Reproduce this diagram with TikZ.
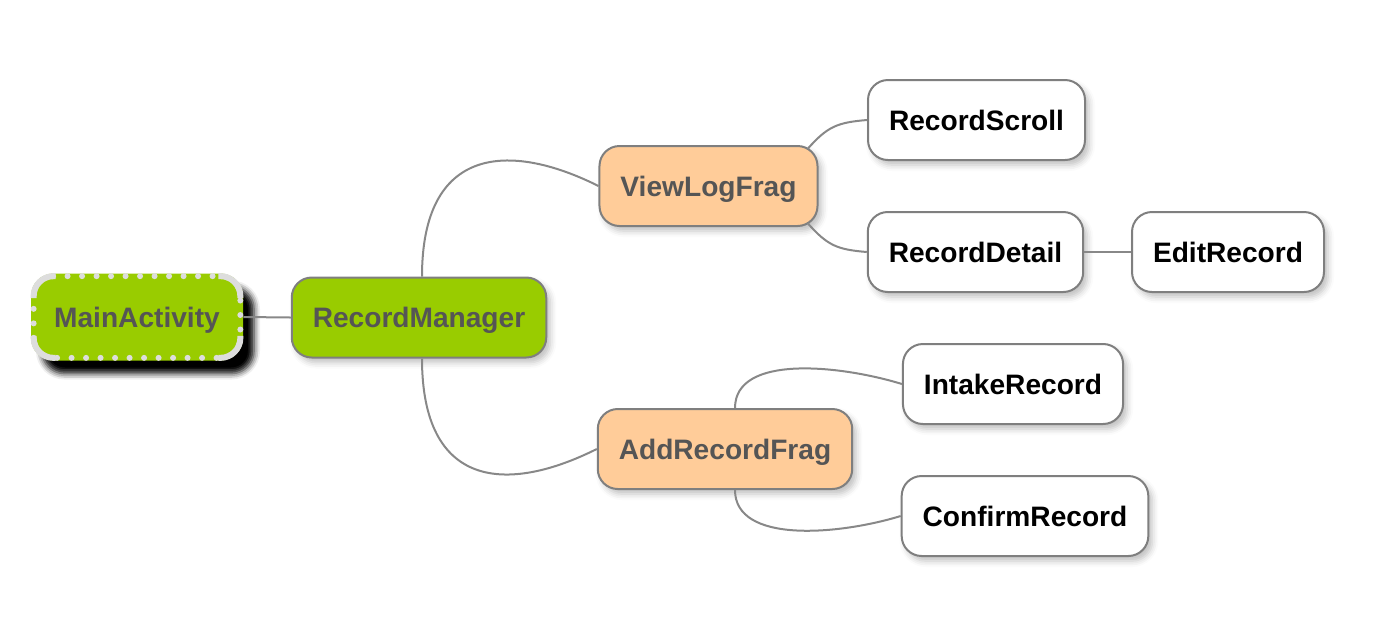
\documentclass[tikz,border=0pt]{standalone}
\usepackage{fontspec}
\setmainfont{Liberation Sans}
\usetikzlibrary{shadows.blur}
\definecolor{leafgreen}{HTML}{99CC00}
\definecolor{peach}{HTML}{FFCC99}
\definecolor{rimgray}{HTML}{7F7F7F}
\definecolor{inkgray}{HTML}{555555}
\definecolor{wiregray}{HTML}{888888}
\definecolor{dotgray}{HTML}{DDDDDD}
\begin{document}
\begin{tikzpicture}[
    box/.style={rectangle, rounded corners=0.4cm, draw=rimgray, line width=0.04cm,
        minimum height=1.6cm, inner xsep=0.42cm, text height=0.4cm, text depth=0pt,
        font=\fontsize{16}{19}\selectfont\bfseries,
        blur shadow={shadow xshift=0.08cm, shadow yshift=-0.1cm, shadow blur radius=0.12cm, shadow opacity=25}},
    rootbox/.style={box, fill=leafgreen, text=inkgray},
    fragbox/.style={box, fill=peach, text=inkgray},
    leafbox/.style={box, fill=white, text=black},
    wire/.style={draw=wiregray, line width=0.04cm}
]
    % The canvas
    \useasboundingbox (0, 0) rectangle (27.68, -12.66);

    % Root of the map (dotted rim, hard shadow)
    \node[rectangle, rounded corners=0.45cm, fill=leafgreen, text=inkgray,
        minimum width=4.24cm, minimum height=1.74cm, text height=0.4cm, text depth=0pt,
        font=\fontsize{16}{19}\selectfont\bfseries,
        blur shadow={shadow xshift=0.22cm, shadow yshift=-0.26cm, shadow blur radius=0.12cm, shadow opacity=100}]
        (main) at (2.74, -6.34) {MainActivity};
    \draw[dotgray, line width=0.12cm, rounded corners=0.4cm, dash pattern=on 0pt off 0.29cm, line cap=round]
        ([shift={(0.06cm,0.06cm)}]main.south west) rectangle ([shift={(-0.06cm,-0.06cm)}]main.north east);
    % solid corners of the rim
    \begin{scope}
        \clip (main.south west) rectangle +(0.5cm, 0.5cm)
              (main.south east) rectangle +(-0.5cm, 0.5cm)
              (main.north west) rectangle +(0.5cm, -0.5cm)
              (main.north east) rectangle +(-0.5cm, -0.5cm);
        \draw[dotgray, line width=0.12cm, rounded corners=0.4cm]
            ([shift={(0.06cm,0.06cm)}]main.south west) rectangle ([shift={(-0.06cm,-0.06cm)}]main.north east);
    \end{scope}

    % Second level
    \node[rootbox] (manager) at (8.38, -6.35) {RecordManager};

    % Fragments
    \node[fragbox] (viewlog) at (14.17, -3.72) {ViewLogFrag};
    \node[fragbox] (addrec) at (14.5, -8.98) {AddRecordFrag};

    % Leaves
    \node[leafbox] (scroll) at (19.53, -2.4) {RecordScroll};
    \node[leafbox] (detail) at (19.51, -5.04) {RecordDetail};
    \node[leafbox] (edit) at (24.56, -5.04) {EditRecord};
    \node[leafbox] (intake) at (20.26, -7.68) {IntakeRecord};
    \node[leafbox] (confirm) at (20.5, -10.32) {ConfirmRecord};

    % Straight links
    \draw[wire] (main.east) -- (manager.west);
    \draw[wire] (detail.east) -- (edit.west);

    % Curved links to the fragments
    \draw[wire] ([xshift=0.06cm]manager.north) .. controls +(0, 2.6) and +(-1.8, 0.9) .. (viewlog.west);
    \draw[wire] ([xshift=0.06cm]manager.south) .. controls +(0, -2.6) and +(-1.8, -0.9) .. (addrec.west);

    % Curved links to the leaves
    \draw[wire] ([xshift=-0.22cm, yshift=-0.08cm]viewlog.north east) .. controls +(0.4, 0.45) and +(-0.6, -0.05) .. (scroll.west);
    \draw[wire] ([xshift=-0.22cm, yshift=0.08cm]viewlog.south east) .. controls +(0.4, -0.45) and +(-0.6, 0.05) .. (detail.west);
    \draw[wire] ([xshift=0.2cm]addrec.north) .. controls +(0, 1.08) and +(-1.24, 0.38) .. (intake.west);
    \draw[wire] ([xshift=0.2cm]addrec.south) .. controls +(0, -1.08) and +(-1.24, -0.38) .. (confirm.west);
\end{tikzpicture}
\end{document}
